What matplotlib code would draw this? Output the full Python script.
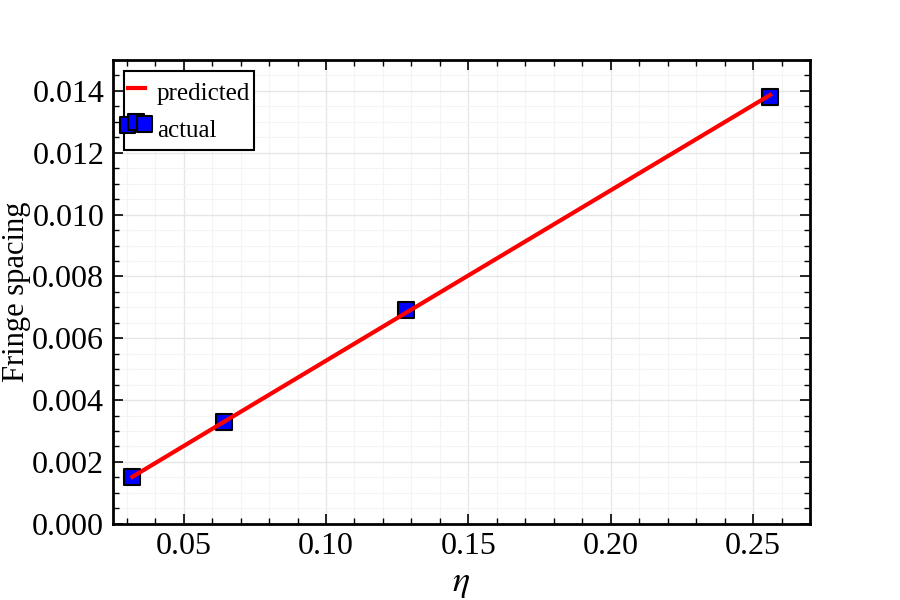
import matplotlib
matplotlib.use("Agg")
import matplotlib.pyplot as plt
from matplotlib.ticker import MultipleLocator
from matplotlib.legend_handler import HandlerPathCollection

plt.rcParams['font.family'] = ['Liberation Serif', 'DejaVu Serif']
plt.rcParams['mathtext.fontset'] = 'stix'

# data
eta = [0.032, 0.064, 0.128, 0.256]
spacing_actual = [0.0015, 0.0033, 0.0069, 0.0138]
spacing_pred = [0.00152, 0.00329, 0.00682, 0.01387]

fig = plt.figure(figsize=(9, 6), dpi=100)
ax = fig.add_axes([0.125, 0.127, 0.775, 0.773])

ax.plot(eta, spacing_pred, color='red', lw=3, label='predicted', zorder=3)
pts = ax.scatter(eta, spacing_actual, marker='s', s=130, color='blue',
                 edgecolor='black', linewidth=1.5, label='actual', zorder=2)

ax.set_xlim(0.025, 0.27)
ax.set_ylim(0, 0.015)
ax.xaxis.set_major_locator(MultipleLocator(0.05))
ax.xaxis.set_minor_locator(MultipleLocator(0.01))
ax.yaxis.set_major_locator(MultipleLocator(0.002))
ax.yaxis.set_minor_locator(MultipleLocator(0.0005))
ax.xaxis.set_major_formatter(plt.FormatStrFormatter('%.2f'))
ax.yaxis.set_major_formatter(plt.FormatStrFormatter('%.3f'))

ax.tick_params(which='both', direction='in', top=True, right=True, labelsize=23)
ax.tick_params(which='major', length=7, width=1.2, pad=6)
ax.tick_params(which='minor', length=4, width=1)
for sp in ax.spines.values():
    sp.set_linewidth(2)

ax.grid(which='major', color='#e6e6e6', lw=1)
ax.grid(which='minor', color='#f4f4f4', lw=0.8)
ax.set_axisbelow(True)

ax.set_xlabel(r'$\eta$', fontsize=26, labelpad=4)
ax.set_ylabel('Fringe spacing', fontsize=22)
ax.yaxis.set_label_coords(-0.117, 0.5)

sq_handler = HandlerPathCollection(numpoints=3, marker_pad=0,
                                   yoffsets=[0.36, 0.44, 0.39])
leg = ax.legend(loc='upper left', fontsize=18, scatterpoints=3,
                handler_map={pts: sq_handler},
                fancybox=False, framealpha=1, edgecolor='black',
                handlelength=0.68, handleheight=1.7, handletextpad=0.5,
                borderpad=0.15, labelspacing=0.13, borderaxespad=0.45)
leg.get_frame().set_linewidth(1.5)

fig.savefig('out.png', dpi=100)
